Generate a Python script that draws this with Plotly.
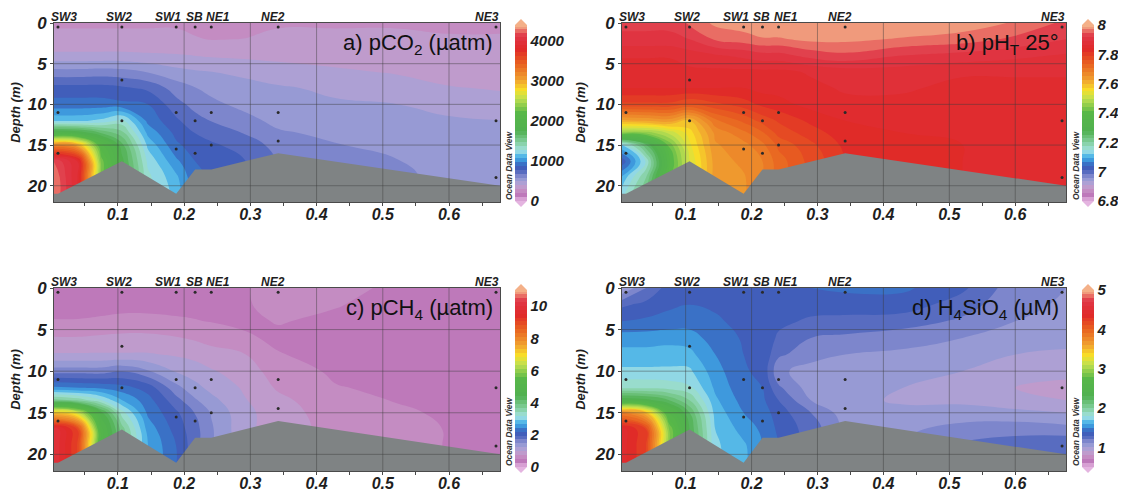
import numpy as np
import plotly.graph_objects as go

W, H = 1126, 497
OFF = 8  # page offset of the figure inside the browser page

# ---------------- data ----------------
stations = ["SW3", "SW2", "SW1", "SB", "NE1", "NE2", "NE3"]
station_x = [0.0095, 0.106, 0.188, 0.2166, 0.241, 0.342, 0.671]
bottom_depth = [21, 17, 21, 18, 18, 16, 20]
sample_depths = [[0.5, 11, 16], [0.5, 7, 12], [0.5, 11, 15.5], [0.5, 12, 16],
                 [0.5, 11, 15], [0.5, 11, 14.5], [0.5, 12, 19]]

x_range = [0.0035, 0.677]
depth_max = 22

grid_x = [0.0035, 0.04, 0.075, 0.106, 0.145, 0.188, 0.2166, 0.241, 0.29, 0.342, 0.43, 0.52, 0.6, 0.677]
grid_depth = [0, 2, 4, 6, 8, 10, 12, 13.5, 15, 17, 19, 22]

# vertical profiles (one per grid_x column, values at grid_depth)
pco2_profiles = [
    [290, 300, 420, 620, 820, 920, 1150, 1900, 3200, 4200, 4300, 4300],
    [290, 300, 420, 620, 820, 920, 1150, 1850, 3000, 3900, 3900, 3900],
    [290, 300, 420, 630, 820, 920, 1200, 1650, 2100, 2300, 2300, 2300],
    [290, 300, 420, 620, 800, 900, 1300, 1500, 1700, 1800, 1800, 1800],
    [290, 300, 410, 580, 760, 880, 950, 1050, 1150, 1250, 1300, 1300],
    [290, 300, 400, 520, 640, 720, 800, 850, 900, 1000, 1100, 1150],
    [270, 300, 390, 500, 590, 650, 720, 780, 830, 880, 900, 900],
    [220, 290, 380, 490, 560, 610, 680, 740, 800, 850, 870, 870],
    [260, 295, 370, 470, 520, 560, 620, 680, 740, 790, 800, 800],
    [290, 300, 360, 440, 500, 530, 560, 600, 650, 680, 690, 690],
    [290, 300, 340, 410, 470, 500, 530, 560, 590, 610, 620, 620],
    [290, 300, 320, 380, 450, 490, 520, 540, 570, 590, 600, 600],
    [290, 295, 310, 340, 400, 460, 500, 520, 540, 560, 570, 570],
    [290, 295, 300, 320, 380, 440, 490, 510, 530, 550, 560, 560],
]
ph_profiles = [
    [7.93, 7.91, 7.87, 7.85, 7.84, 7.78, 7.62, 7.45, 7.12, 7.02, 7.10, 7.15],
    [7.93, 7.91, 7.87, 7.85, 7.84, 7.78, 7.63, 7.45, 7.25, 7.15, 7.20, 7.25],
    [7.93, 7.91, 7.87, 7.85, 7.84, 7.78, 7.64, 7.50, 7.42, 7.38, 7.40, 7.40],
    [7.95, 7.92, 7.88, 7.86, 7.84, 7.76, 7.60, 7.56, 7.54, 7.52, 7.52, 7.52],
    [7.98, 7.95, 7.89, 7.86, 7.84, 7.78, 7.70, 7.66, 7.65, 7.64, 7.64, 7.64],
    [7.99, 7.96, 7.90, 7.86, 7.84, 7.80, 7.74, 7.70, 7.67, 7.66, 7.65, 7.65],
    [8.00, 7.97, 7.91, 7.86, 7.85, 7.82, 7.77, 7.73, 7.70, 7.68, 7.68, 7.68],
    [8.00, 7.97, 7.91, 7.86, 7.85, 7.83, 7.79, 7.77, 7.74, 7.72, 7.72, 7.72],
    [8.00, 7.98, 7.93, 7.87, 7.86, 7.85, 7.82, 7.80, 7.78, 7.77, 7.77, 7.77],
    [8.00, 7.98, 7.94, 7.88, 7.87, 7.86, 7.84, 7.83, 7.82, 7.81, 7.81, 7.81],
    [8.00, 7.97, 7.92, 7.88, 7.87, 7.86, 7.85, 7.84, 7.83, 7.83, 7.83, 7.83],
    [7.99, 7.96, 7.91, 7.87, 7.86, 7.86, 7.85, 7.85, 7.84, 7.84, 7.84, 7.84],
    [7.97, 7.94, 7.90, 7.87, 7.86, 7.85, 7.85, 7.85, 7.84, 7.84, 7.84, 7.84],
    [7.94, 7.92, 7.89, 7.87, 7.86, 7.85, 7.85, 7.85, 7.84, 7.84, 7.84, 7.84],
]
pch4_profiles = [
    [0.40, 0.42, 0.50, 0.75, 1.00, 1.60, 2.50, 3.80, 7.20, 10.0, 10.0, 10.0],
    [0.40, 0.42, 0.50, 0.75, 1.00, 1.60, 2.45, 3.60, 6.50, 9.00, 9.00, 9.00],
    [0.40, 0.42, 0.52, 0.78, 1.00, 1.60, 2.40, 3.20, 4.50, 5.00, 5.00, 5.00],
    [0.40, 0.42, 0.55, 0.80, 1.00, 1.70, 2.30, 2.70, 3.30, 3.80, 3.80, 3.80],
    [0.40, 0.42, 0.55, 0.80, 1.00, 1.50, 2.10, 2.30, 2.40, 2.60, 2.70, 2.70],
    [0.40, 0.42, 0.52, 0.75, 0.95, 1.20, 1.55, 1.80, 2.00, 2.10, 2.20, 2.20],
    [0.40, 0.42, 0.50, 0.70, 0.90, 1.10, 1.30, 1.50, 1.70, 1.80, 1.80, 1.80],
    [0.40, 0.42, 0.48, 0.62, 0.85, 1.00, 1.15, 1.30, 1.45, 1.50, 1.50, 1.50],
    [0.45, 0.45, 0.45, 0.52, 0.75, 0.88, 0.95, 1.00, 1.05, 1.05, 1.05, 1.05],
    [0.65, 0.60, 0.50, 0.45, 0.50, 0.60, 0.70, 0.80, 0.85, 0.85, 0.85, 0.85],
    [0.55, 0.50, 0.45, 0.42, 0.42, 0.45, 0.50, 0.55, 0.60, 0.65, 0.65, 0.65],
    [0.45, 0.42, 0.40, 0.40, 0.40, 0.42, 0.45, 0.48, 0.52, 0.55, 0.55, 0.55],
    [0.42, 0.40, 0.40, 0.40, 0.40, 0.40, 0.42, 0.44, 0.46, 0.48, 0.48, 0.48],
    [0.40, 0.40, 0.40, 0.40, 0.40, 0.40, 0.40, 0.40, 0.42, 0.42, 0.42, 0.42],
]
h4sio4_profiles = [
    [1.00, 1.28, 1.40, 1.55, 1.64, 1.72, 1.88, 2.40, 3.80, 4.45, 4.45, 4.45],
    [1.20, 1.33, 1.42, 1.55, 1.64, 1.72, 1.88, 2.35, 3.50, 4.20, 4.20, 4.20],
    [1.35, 1.38, 1.44, 1.56, 1.65, 1.72, 1.86, 2.20, 2.60, 2.90, 2.90, 2.90],
    [1.38, 1.40, 1.45, 1.55, 1.63, 1.72, 1.82, 2.00, 2.20, 2.30, 2.30, 2.30],
    [1.38, 1.39, 1.41, 1.45, 1.50, 1.54, 1.58, 1.62, 1.66, 1.70, 1.72, 1.72],
    [1.38, 1.38, 1.38, 1.39, 1.40, 1.41, 1.43, 1.46, 1.50, 1.56, 1.62, 1.62],
    [1.38, 1.38, 1.38, 1.38, 1.38, 1.38, 1.40, 1.42, 1.45, 1.48, 1.50, 1.50],
    [1.38, 1.36, 1.33, 1.28, 1.22, 1.12, 1.22, 1.30, 1.35, 1.38, 1.40, 1.40],
    [1.40, 1.35, 1.28, 1.20, 1.14, 1.06, 1.05, 1.10, 1.20, 1.25, 1.25, 1.25],
    [1.42, 1.35, 1.27, 1.18, 1.10, 1.05, 1.00, 1.02, 1.05, 1.10, 1.10, 1.10],
    [1.42, 1.35, 1.25, 1.14, 1.08, 1.04, 1.00, 0.99, 1.02, 1.08, 1.12, 1.12],
    [1.32, 1.25, 1.18, 1.10, 1.05, 1.00, 0.97, 0.98, 1.04, 1.14, 1.22, 1.22],
    [1.14, 1.12, 1.10, 1.06, 1.00, 0.94, 0.90, 0.93, 1.03, 1.16, 1.26, 1.26],
    [1.10, 1.09, 1.07, 1.04, 0.98, 0.92, 0.88, 0.90, 1.00, 1.14, 1.30, 1.30],
]

x_ticks = [0.1, 0.2, 0.3, 0.4, 0.5, 0.6]
x_ticktext = ["0.1", "0.2", "0.3", "0.4", "0.5", "0.6"]
depth_ticks = [0, 5, 10, 15, 20]

panels = [
    dict(profiles=pco2_profiles, zmin=0, zmax=4400, cticks=[0, 1000, 2000, 3000, 4000],
         ctext=["0", "1000", "2000", "3000", "4000"], title="a) pCO<sub>2</sub> (µatm)"),
    dict(profiles=ph_profiles, zmin=6.8, zmax=8.0, cticks=[6.8, 7.0, 7.2, 7.4, 7.6, 7.8, 8.0],
         ctext=["6.8", "7", "7.2", "7.4", "7.6", "7.8", "8"], title="b) pH<sub>T</sub> 25°"),
    dict(profiles=pch4_profiles, zmin=0, zmax=11, cticks=[0, 2, 4, 6, 8, 10],
         ctext=["0", "2", "4", "6", "8", "10"], title="c) pCH<sub>4</sub> (µatm)"),
    dict(profiles=h4sio4_profiles, zmin=0.5, zmax=5, cticks=[1, 2, 3, 4, 5],
         ctext=["1", "2", "3", "4", "5"], title="d) H<sub>4</sub>SiO<sub>4</sub> (µM)"),
]

# ---------------- style ----------------
colorscale = [
    [0.00, "#e4b4e0"], [0.035, "#bc76b8"], [0.065, "#c896c6"], [0.09, "#b6a0d2"],
    [0.115, "#a0a0d6"], [0.145, "#7c86cc"], [0.175, "#4a62bc"], [0.20, "#3a5ab8"],
    [0.225, "#3a8ed8"], [0.25, "#46b0e8"], [0.285, "#a4e2e4"], [0.33, "#84d0a0"],
    [0.40, "#50b050"], [0.50, "#58b848"], [0.58, "#c0e050"], [0.63, "#f8e028"],
    [0.69, "#f0a030"], [0.78, "#e86020"], [0.86, "#e02828"], [0.94, "#e03848"],
    [1.00, "#f4b088"],
]
FONT = "Liberation Sans"
TXT = "#1e1e1e"
AX = "#4a4a4a"
GRAY = "#7f8384"

# pixel boxes measured on the page (converted to figure coords with OFF)
px_x = [(54, 500), (622, 1066), (54, 500), (622, 1066)]
px_y = [(23, 202), (23, 202), (288, 471), (288, 471)]
cb_px_x = [515, 1082, 515, 1082]
cb_px_y = [(25, 201), (25, 201), (290, 467), (290, 467)]
odv_px_x = [509, 1076, 509, 1076]
label_anchor = ["left", "center", "right", "center", "left", "center", "right"]
label_shift = [-8, -3, 6, -1, -6, -5, 4]

fig = go.Figure()
layout = {}
shapes = []
annotations = []

for i, p in enumerate(panels):
    n = "" if i == 0 else str(i + 1)
    xa, ya = "x" + n, "y" + n
    z = np.array(p["profiles"], dtype=float).T
    x0p, x1p = px_x[i][0] - OFF, px_x[i][1] - OFF
    y0p, y1p = px_y[i][0] - OFF, px_y[i][1] - OFF
    cy0, cy1 = cb_px_y[i][0] - OFF, cb_px_y[i][1] - OFF
    cx0 = cb_px_x[i] - OFF
    fig.add_trace(go.Contour(
        x=grid_x, y=grid_depth, z=z, xaxis=xa, yaxis=ya,
        colorscale=colorscale, zmin=p["zmin"], zmax=p["zmax"], zauto=False,
        contours=dict(coloring="fill", start=p["zmin"], end=p["zmax"],
                      size=(p["zmax"] - p["zmin"]) / 45, showlines=False),
        line=dict(width=0, smoothing=1.3),
        hoverinfo="skip",
        colorbar=dict(
            x=cx0 / W, xanchor="left", xpad=0, ypad=0,
            y=1 - (cy0 + cy1) / 2 / H, yanchor="middle",
            len=cy1 - cy0, lenmode="pixels", thickness=12, thicknessmode="pixels",
            outlinewidth=0, ticks="", tickvals=p["cticks"], ticktext=p["ctext"],
            tickfont=dict(family=FONT, size=15, color=TXT, weight="bold", style="italic"),
        ),
    ))
    # pointed colorbar ends (ODV style)
    for yb, ytip, col in ((cy0, cy0 - 6, colorscale[-1][1]), (cy1, cy1 + 6, colorscale[0][1])):
        shapes.append(dict(
            type="path", xref="paper", yref="paper", layer="above",
            path=f"M {cx0 / W},{1 - yb / H} L {(cx0 + 12) / W},{1 - yb / H} "
                 f"L {(cx0 + 6) / W},{1 - ytip / H} Z",
            fillcolor=col, line=dict(width=0)))
    # bathymetry
    bx = [x_range[0]] + station_x + [x_range[1], x_range[1], x_range[0]]
    by = [bottom_depth[0]] + bottom_depth + [bottom_depth[-1], depth_max, depth_max]
    fig.add_trace(go.Scatter(x=bx, y=by, xaxis=xa, yaxis=ya, mode="lines",
                             fill="toself", fillcolor=GRAY, line=dict(width=0, color=GRAY),
                             hoverinfo="skip", showlegend=False))
    # sample points
    sx = [station_x[k] for k in range(len(stations)) for _ in sample_depths[k]]
    sy = [d for k in range(len(stations)) for d in sample_depths[k]]
    fig.add_trace(go.Scatter(x=sx, y=sy, xaxis=xa, yaxis=ya, mode="markers",
                             marker=dict(size=3, color="#2a2a2a"),
                             hoverinfo="skip", showlegend=False))

    tickfont = dict(family=FONT, size=16, color=TXT, weight="bold", style="italic")
    layout["xaxis" + n] = dict(
        domain=[x0p / W, x1p / W], range=x_range, anchor=ya, automargin=False,
        tickvals=x_ticks, ticktext=x_ticktext, showgrid=False, zeroline=False,
        showline=True, mirror=True, linecolor=AX, linewidth=1,
        ticks="outside", ticklen=3, tickcolor=AX, ticklabelstandoff=-5,
        minor=dict(dtick=0.05, tick0=0, ticks="outside", ticklen=3, tickcolor=AX, showgrid=False),
        tickfont=tickfont, fixedrange=True,
    )
    layout["yaxis" + n] = dict(
        domain=[1 - y1p / H, 1 - y0p / H], range=[depth_max, 0], anchor=xa, automargin=False,
        tickvals=depth_ticks, showgrid=False, zeroline=False,
        showline=True, mirror=True, linecolor=AX, linewidth=1,
        ticks="outside", ticklen=3, tickcolor=AX,
        tickfont=dict(tickfont, size=17), fixedrange=True,
        title=dict(text="Depth (m)", standoff=6,
                   font=dict(family=FONT, size=13, color=TXT, weight="bold", style="italic")),
    )
    # grid lines above the field
    for v in x_ticks:
        shapes.append(dict(type="line", xref=xa, yref=ya + " domain", x0=v, x1=v, y0=0, y1=1,
                           line=dict(color="rgba(60,60,60,0.45)", width=1), layer="above"))
    for v in depth_ticks[1:]:
        shapes.append(dict(type="line", xref=xa + " domain", yref=ya, x0=0, x1=1, y0=v, y1=v,
                           line=dict(color="rgba(60,60,60,0.45)", width=1), layer="above"))
    # station labels
    for k, s in enumerate(stations):
        annotations.append(dict(text=s, x=station_x[k], xref=xa, y=1, yref=ya + " domain",
                                xanchor=label_anchor[k], yanchor="bottom", xshift=label_shift[k],
                                yshift=-2, borderpad=0, showarrow=False,
                                font=dict(family=FONT, size=12, color=TXT, weight="bold", style="italic")))
    # panel title
    annotations.append(dict(text=p["title"], x=0.988, xref=xa + " domain", y=0.97, yref=ya + " domain",
                            xanchor="right", yanchor="top", showarrow=False,
                            font=dict(family=FONT, size=22, color="#111111")))
    # Ocean Data View watermark
    annotations.append(dict(text="Ocean Data View", x=(odv_px_x[i] - OFF) / W, xref="paper",
                            y=1 - (cy1 - 36) / H, yref="paper", textangle=-90,
                            xanchor="center", yanchor="middle", showarrow=False,
                            font=dict(family=FONT, size=8.5, color="#333333", weight="bold", style="italic")))

fig.update_layout(
    width=W, height=H, margin=dict(l=0, r=0, t=0, b=0, autoexpand=False),
    paper_bgcolor="white", plot_bgcolor="white", showlegend=False,
    shapes=shapes, annotations=annotations, **layout,
)
fig.write_html("out.html")
